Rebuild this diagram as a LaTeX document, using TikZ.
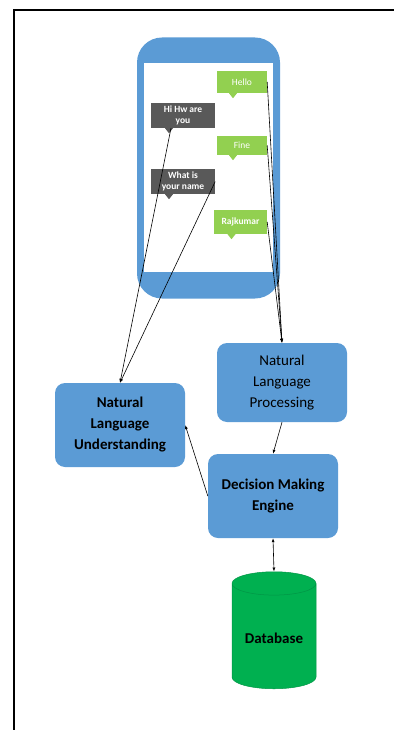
\documentclass[tikz,border=0pt]{standalone}
\usepackage{fontspec}
\setmainfont{Carlito}
\usepackage{tikz}
\usetikzlibrary{arrows.meta,positioning,shapes.geometric,calc}
\definecolor{PhoneBlue}{RGB}{91,155,213}
\definecolor{BubbleGreen}{RGB}{146,208,80}
\definecolor{BubbleGray}{RGB}{89,89,89}
\definecolor{DbGreen}{RGB}{0,176,80}
\definecolor{DbEdge}{RGB}{0,150,70}

\begin{document}
\begin{tikzpicture}[
  x=1pt, y=-1pt,
  phone/.style={
    fill=PhoneBlue,
    rounded corners=25pt,
    minimum width=143pt,
    minimum height=261pt
  },
  screen/.style={fill=white, minimum width=129pt, minimum height=209pt},
  greenmsg/.style={
    fill=BubbleGreen,
    text=white,
    font=\fontsize{9.5}{10.5}\selectfont,
    minimum width=50pt,
    inner sep=1pt
  },
  graymsg/.style={
    fill=BubbleGray,
    text=white,
    font=\fontsize{9.5}{10.5}\selectfont\bfseries,
    minimum width=64pt,
    minimum height=25pt,
    align=center,
    inner sep=1pt
  },
  module/.style={
    fill=PhoneBlue,
    rounded corners=10pt,
    minimum width=130pt,
    align=center,
    font=\fontsize{15}{21}\selectfont\bfseries
  },
  store/.style={
    cylinder,
    shape border rotate=90,
    aspect=0.36,
    draw=DbEdge,
    line width=0.5pt,
    fill=DbGreen,
    minimum width=84pt,
    minimum height=117pt,
    font=\fontsize{15}{18}\selectfont\bfseries
  },
  link/.style={-{Latex[length=4pt,width=3pt]}, line width=0.6pt},
  both/.style={{Latex[length=4pt,width=3pt]}-{Latex[length=4pt,width=3pt]}, line width=0.6pt}
]
\useasboundingbox (0,0) rectangle (394,730);
\draw[line width=1.6pt] (14,730) -- (14,10) -- (394,10);

% phone with the chat
\node[phone] (phone) at (208.5,168) {};
\node[screen] (screen) at (208.5,167.5) {};
\node[greenmsg, minimum height=22pt] (hello) at (242,82) {Hello};
\node[greenmsg, minimum height=19pt] (fine) at (242,145.5) {Fine};
\node[greenmsg, minimum width=53pt, minimum height=24pt, font=\fontsize{9.5}{10.5}\selectfont\bfseries] (raj) at (240.5,222) {Rajkumar};
\node[graymsg] (hi) at (183,115.5) {Hi Hw are\\you};
\node[graymsg] (what) at (183,181.5) {What is\\your name};
\foreach \m in {hello,fine,raj}
  \fill[BubbleGreen] ([xshift=-13pt]\m.south) -- ++(4,5) -- ++(4,-5) -- cycle;
\foreach \m in {hi,what}
  \fill[BubbleGray] ([xshift=-18pt]\m.south) -- ++(4,5) -- ++(4,-5) -- cycle;

% processing blocks
\node[module, minimum height=79pt, font=\fontsize{15}{21}\selectfont] (nlp) at (282,382.5) {Natural\\Language\\Processing};
\node[module, minimum height=84pt] (nlu) at (120,425) {Natural\\Language\\Understanding};
\node[module, minimum height=84pt] (dme) at (273,496) {Decision Making\\Engine};
\node[store] (db) at (274,638.5) {Database};

\foreach \m in {hello,fine,raj}
  \draw[link] (\m.east) -- (nlp.north);
\draw[link] ([xshift=-12pt]hi.south) -- (nlu.north);
\draw[link] (what.east) -- (nlu.north);
\draw[link] (nlp.south) -- (dme.north);
\draw[link] (dme.west) -- (nlu.east);
\draw[both] (dme.south) -- (db.north);
\end{tikzpicture}
\end{document}
